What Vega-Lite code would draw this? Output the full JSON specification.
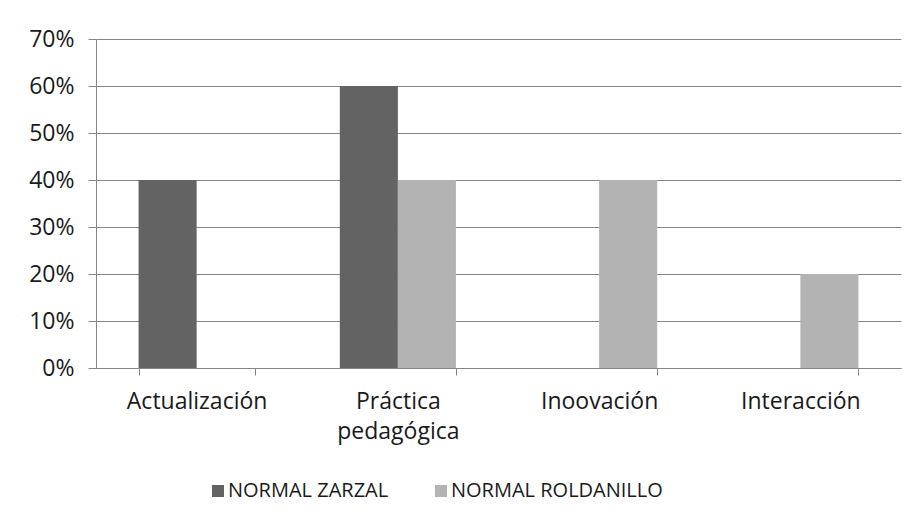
{
  "$schema": "https://vega.github.io/schema/vega-lite/v6.json",
  "autosize": {"type": "none"},
  "width": 805,
  "height": 329,
  "padding": {"left": 96, "top": 39, "right": 16, "bottom": 159},
  "background": "white",
  "data": {
    "values": [
      {"categoria": "Actualización", "serie": "NORMAL  ZARZAL", "valor": 0.4},
      {"categoria": "Actualización", "serie": "NORMAL ROLDANILLO", "valor": 0},
      {"categoria": "Práctica pedagógica", "serie": "NORMAL  ZARZAL", "valor": 0.6},
      {"categoria": "Práctica pedagógica", "serie": "NORMAL ROLDANILLO", "valor": 0.4},
      {"categoria": "Inoovación", "serie": "NORMAL  ZARZAL", "valor": 0},
      {"categoria": "Inoovación", "serie": "NORMAL ROLDANILLO", "valor": 0.4},
      {"categoria": "Interacción", "serie": "NORMAL  ZARZAL", "valor": 0},
      {"categoria": "Interacción", "serie": "NORMAL ROLDANILLO", "valor": 0.2}
    ]
  },
  "mark": {"type": "bar"},
  "encoding": {
    "x": {
      "field": "categoria",
      "type": "nominal",
      "sort": ["Actualización", "Práctica pedagógica", "Inoovación", "Interacción"],
      "scale": {"paddingInner": 0.423, "paddingOuter": 0.2115},
      "axis": {
        "title": null,
        "labelAngle": 0,
        "labelExpr": "split(datum.label, ' ')",
        "labelFont": "Open Sans",
        "labelFontSize": 23,
        "labelColor": "#1a1a1a",
        "labelPadding": 15,
        "labelLineHeight": 30,
        "labelLimit": 0,
        "tickBand": "extent",
        "tickSize": 7,
        "tickColor": "#868686",
        "domainColor": "#868686",
        "grid": false
      }
    },
    "xOffset": {
      "field": "serie",
      "type": "nominal",
      "sort": ["NORMAL  ZARZAL", "NORMAL ROLDANILLO"],
      "scale": {"paddingInner": 0, "paddingOuter": 0}
    },
    "y": {
      "field": "valor",
      "type": "quantitative",
      "scale": {"domain": [0, 0.7], "nice": false},
      "axis": {
        "title": null,
        "format": ".0%",
        "values": [0, 0.1, 0.2, 0.3, 0.4, 0.5, 0.6, 0.7],
        "labelFont": "Open Sans",
        "labelFontSize": 23,
        "labelColor": "#1a1a1a",
        "labelPadding": 14,
        "tickSize": 8,
        "tickColor": "#868686",
        "domainColor": "#868686",
        "gridColor": "#868686",
        "gridWidth": 1
      }
    },
    "color": {
      "field": "serie",
      "type": "nominal",
      "sort": ["NORMAL  ZARZAL", "NORMAL ROLDANILLO"],
      "scale": {"domain": ["NORMAL  ZARZAL", "NORMAL ROLDANILLO"], "range": ["#636363", "#b3b3b3"]},
      "legend": {
        "title": null,
        "orient": "none",
        "direction": "horizontal",
        "legendX": 112,
        "legendY": 442,
        "symbolType": "square",
        "symbolSize": 144,
        "symbolStrokeWidth": 0,
        "labelFont": "Open Sans",
        "labelFontSize": 20,
        "labelColor": "#1a1a1a",
        "labelLimit": 0,
        "labelOffset": 0,
        "columnPadding": 37
      }
    }
  },
  "config": {
    "view": {"stroke": null},
    "axis": {"domainWidth": 1, "tickWidth": 1}
  }
}
